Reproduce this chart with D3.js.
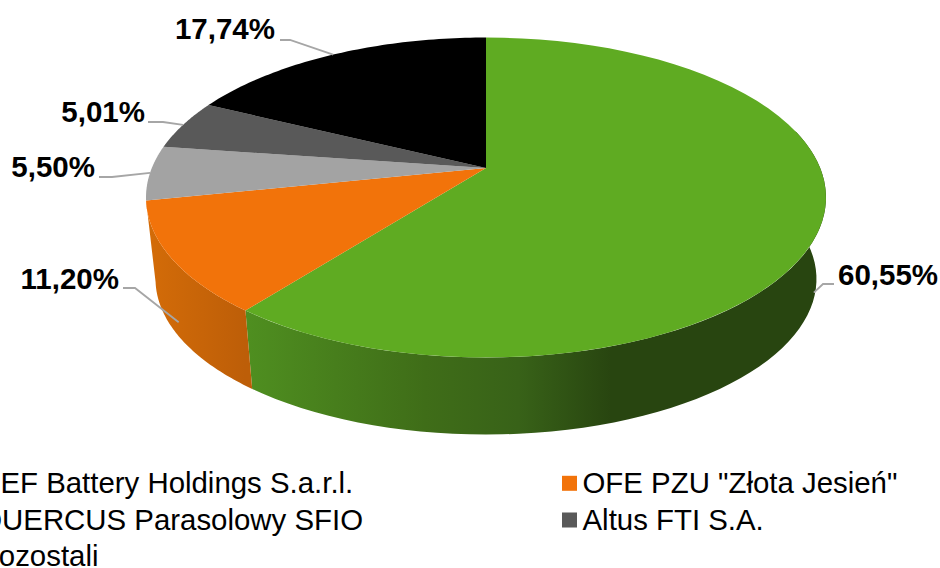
<!DOCTYPE html>
<html>
<head>
<meta charset="utf-8">
<script src="https://cdn.jsdelivr.net/npm/d3@7"></script>
<style>
html, body { margin: 0; padding: 0; background: #fff; overflow: hidden; }
text { font-family: "Liberation Sans", Arial, sans-serif; fill: #000; }
</style>
</head>
<body>
<script>
// data
var names = ["CEF Battery Holdings S.a.r.l.", 'OFE PZU "Złota Jesień"', "QUERCUS Parasolowy SFIO", "Altus FTI S.A.", "Pozostali"];
var shares = [60.55, 11.20, 5.50, 5.01, 17.74];
var shareLabels = ["60,55%", "11,20%", "5,50%", "5,01%", "17,74%"];

var colors = ["#5fab22", "#f2730a", "#a3a3a3", "#595959", "#000000"];
var wallStops = [
	[[0, "#284510"], [0.37, "#284510"], [0.53, "#386218"], [0.69, "#3f6d18"], [1, "#4f8f20"]],
	[[0, "#bd5e08"], [1, "#d46c08"]]
];

// label layout: elbow and text end, relative to the picture
var leaderBends = [[823,284,834,284], [135,288,123,288], [112,177,99,177], [163,122,148,122], [290,40,280,40]];
var labelPos = [[838,277,"start"], [119,281,"end"], [95,169,"end"], [145,114,"end"], [275,31,"end"]];
var leaderDepth = [0.88, 0.8, 0, 0, 0];

var Width = 940, Height = 568;
var cx = 486, cyTop = 197.5, rx = 340, ry = 160;
var tilt = 0.184;              // perspective of the disc
var cyBottom = 279, shrink = 0.972;

var svg = d3.select("body").append("svg")
	.attr("width", Width)
	.attr("height", Height)
	.style("display", "block");

// a point on the disc rim, angle clockwise from 12 o'clock
function rim(a) {
	var u = Math.sin(a), v = -Math.cos(a);
	var w = 1 - tilt * v;
	return [rx * Math.sqrt(1 - tilt * tilt) * u / w, ry * (v - tilt) / w];
}
function topPt(a) { var p = rim(a); return [cx + p[0], cyTop + p[1]]; }
function botPt(a) { var p = rim(a); return [cx + p[0] * shrink, cyBottom + p[1] * shrink]; }

function steps(a0, a1) { return d3.range(0, 61).map(function(i) { return a0 + (a1 - a0) * i / 60; }); }

var arcs = d3.pie().sort(null).startAngle(0).endAngle(2 * Math.PI)(shares);
var line = d3.line();
var defs = svg.append("defs");
var apex = [cx, cyTop - ry * tilt];

// walls, only the two front slices are seen. one quad per step in a single path,
// the rims cross near the silhouette so a plain outline would leave a notch
arcs.slice(0, 2).forEach(function(d, i) {
	var a0 = Math.max(d.startAngle, Math.PI * 0.42), a1 = Math.min(d.endAngle, Math.PI * 1.5);
	var pts = steps(a0, a1);
	var xs = pts.map(function(a) { return topPt(a)[0]; });
	var grad = defs.append("linearGradient").attr("id", "wall" + i)
		.attr("gradientUnits", "userSpaceOnUse")
		.attr("x1", d3.max(xs)).attr("x2", d3.min(xs)).attr("y1", 0).attr("y2", 0);
	wallStops[i].forEach(function(s) { grad.append("stop").attr("offset", s[0]).attr("stop-color", s[1]); });
	var quads = d3.pairs(pts).map(function(p) {
		return line([topPt(p[0]), topPt(p[1]), botPt(p[1]), botPt(p[0])]) + "Z";
	});
	svg.append("path")
		.attr("d", quads.join(""))
		.attr("fill", "url(#wall" + i + ")");
});

// top of the pie
arcs.forEach(function(d, i) {
	var pts = steps(d.startAngle, d.endAngle).map(function(a) { return topPt(a); });
	pts.unshift(apex);
	svg.append("path")
		.attr("d", line(pts) + "Z")
		.attr("fill", colors[i]);
});

// leader lines
arcs.forEach(function(d, i) {
	var mid = (d.startAngle + d.endAngle) / 2;
	var t = topPt(mid), b = botPt(mid), k = leaderDepth[i];
	var b0 = leaderBends[i];
	svg.append("path")
		.attr("d", line([[t[0] + (b[0] - t[0]) * k, t[1] + (b[1] - t[1]) * k], [b0[0], b0[1]], [b0[2], b0[3]]]))
		.attr("fill", "none")
		.attr("stroke", "#a6a6a6")
		.attr("stroke-width", 1.8);
	svg.append("text")
		.attr("x", labelPos[i][0]).attr("y", labelPos[i][1])
		.attr("text-anchor", labelPos[i][2])
		.attr("dominant-baseline", "middle")
		.attr("font-size", 29.5)
		.attr("font-weight", "bold")
		.text(shareLabels[i]);
});

// legend, two columns, the left one runs off the page
var colX = d3.scaleOrdinal().domain([0, 1]).range([-41.3, 562]);
var rowY = d3.scalePoint().domain([0, 1, 2]).range([483.3, 556.7]);
names.forEach(function(n, i) {
	var g = svg.append("g").attr("transform", "translate(" + colX(i % 2) + "," + rowY(Math.floor(i / 2)) + ")");
	g.append("rect").attr("x", 0).attr("y", -7.5).attr("width", 15).attr("height", 15).attr("fill", colors[i]);
	g.append("text").attr("x", 20.5).attr("y", 9.5).attr("font-size", 29.4).text(n);
});
</script>
</body>
</html>
